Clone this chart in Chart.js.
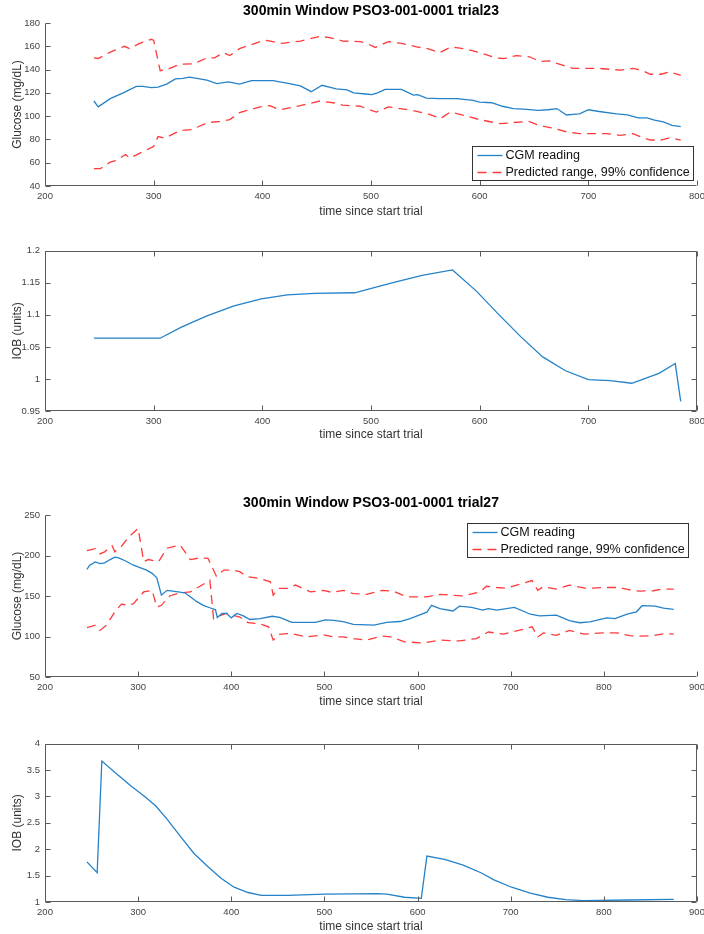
<!DOCTYPE html>
<html>
<head>
<meta charset="utf-8">
<script src="https://cdn.jsdelivr.net/npm/chart.js@4.4.1/dist/chart.umd.min.js"></script>
<style>
  body { margin: 0; background: #fff; width: 704px; height: 934px; position: relative; overflow: hidden; }
  .plot { position: absolute; left: 0; width: 704px; }
</style>
</head>
<body>
<div class="plot" style="top:0;height:222px"><canvas id="glucose23"></canvas></div>
<div class="plot" style="top:240px;height:206px"><canvas id="iob23"></canvas></div>
<div class="plot" style="top:492px;height:221px"><canvas id="glucose27"></canvas></div>
<div class="plot" style="top:733px;height:201px"><canvas id="iob27"></canvas></div>
<script>
// ---- trial 23 data (time since start trial, minutes) ----
const cgmTime23 = [245, 249, 260, 272, 284, 290, 298, 304, 312, 320, 327, 333, 349, 358, 369, 379, 390, 410, 416, 425,
  435, 445, 455, 468, 478, 484, 495, 501, 506, 513, 528, 539, 543, 551, 563, 579, 594, 600, 611, 621,
  631, 640, 654, 663, 671, 680, 686, 692, 700, 710, 726, 736, 746, 754, 761, 769, 777, 785];
const cgm23 = [113, 108, 115, 120, 125.5, 125.5, 124.5, 125, 127.5, 132, 132.5, 133.5, 131, 128, 129.5, 127.5, 130.5, 130.5, 129.5, 128,
  126, 121, 126.5, 123.5, 122.5, 120, 119, 118.5, 120, 123, 123, 118, 118.5, 115.5, 115, 115, 113.5, 112, 111.5, 108.5,
  106.5, 106, 105, 105.5, 106.5, 101, 101.5, 102, 105.5, 104, 102, 101, 98.5, 98.5, 96.5, 95, 92, 91];

const upperTime23 = [245, 249, 260, 273, 278, 287, 298, 300, 306, 312, 324, 337, 349, 356, 364, 370, 379, 398, 404, 418,
  435, 453, 462, 474, 490, 496, 504, 516, 528, 542, 552, 563, 574, 588, 600, 615, 622, 634, 646, 655,
  664, 674, 686, 710, 729, 741, 749, 757, 767, 775, 785];
const upper23 = [150, 149.5, 155, 160, 158, 162.5, 166, 165, 139, 140, 144.5, 145, 150, 150, 154.5, 152, 158, 164, 165, 162.5,
  164.5, 168.5, 167.5, 164.5, 164, 162.5, 159, 164, 162.5, 159.5, 158, 154.5, 159.5, 157.5, 154.5, 150, 149.5, 152, 151, 147,
  147.5, 144.5, 141, 141, 139.5, 141, 139.5, 136, 136, 138, 135];

const lowerTime23 = [245, 251, 260, 266, 274, 278, 287, 300, 304, 310, 324, 335, 350, 361, 370, 379, 398, 407, 416, 435,
  453, 465, 474, 490, 499, 505, 516, 538, 552, 564, 573, 588, 600, 619, 631, 645, 655, 666, 680, 692,
  717, 729, 741, 749, 757, 767, 775, 785];
const lower23 = [55, 55, 60.5, 62, 67, 64, 68, 74, 82.5, 81, 87.5, 88.5, 94.5, 95.5, 97, 103, 108, 109, 105.5, 109,
  113, 111.5, 109.5, 108.5, 105.5, 103.5, 108, 105, 102, 98, 103.5, 100, 97, 93.5, 94.5, 95.5, 92, 90, 86.5, 85,
  85, 83.5, 85, 82, 79.5, 79.5, 81.5, 79.5];

const iobTime23 = [245, 306, 325, 349, 374, 399, 423, 448, 485, 502, 522, 547, 575, 597, 617, 638, 658, 679, 700, 720,
  740, 765, 780, 785];
const iob23 = [1.0635, 1.0635, 1.0805, 1.0985, 1.114, 1.125, 1.131, 1.1333, 1.1344, 1.142, 1.151, 1.1615, 1.17, 1.137, 1.1015, 1.0656, 1.0344, 1.0128, 0.999, 0.9974,
  0.9933, 1.0087, 1.024, 0.965];

// ---- trial 27 data ----
const cgmTime27 = [245, 248, 254, 259, 264, 270, 275, 279, 286, 295, 302, 309, 315, 320, 325, 331, 341, 350, 356, 363,
  370, 377, 383, 385, 390, 395, 400, 406, 413, 420, 431, 444, 452, 465, 490, 501, 510, 520, 531, 553,
  567, 581, 592, 601, 610, 615, 624, 638, 645, 658, 670, 676, 685, 704, 721, 731, 749, 763, 774, 785,
  803, 812, 825, 835, 841, 855, 864, 875];
const cgm27 = [183, 188, 192, 190, 191, 195, 198, 197, 193.5, 188, 185, 182, 178, 172.5, 151, 157, 155.5, 154, 149, 143,
  138.5, 135.5, 133, 123.5, 128.5, 128.5, 123, 128.5, 125.5, 121, 122, 125, 123.5, 117.5, 117.5, 120.5, 120, 118.5, 115, 114,
  117.5, 118.5, 122, 126, 130, 138.5, 134.5, 131.5, 137.5, 136, 132.5, 134.5, 132.5, 136, 127.5, 125.5, 126.5, 119.5, 117, 118,
  123, 122, 127.5, 130.5, 138, 137.5, 135, 133.5];

const upperTime27 = [245, 254, 259, 264, 272, 275, 282, 291, 300, 306, 311, 322, 331, 345, 356, 366, 375, 384, 392, 402,
  409, 417, 431, 442, 445, 451, 460, 469, 485, 499, 508, 520, 531, 545, 562, 574, 588, 610, 624, 649,
  667, 674, 685, 695, 713, 723, 729, 735, 749, 763, 781, 799, 817, 830, 839, 853, 862, 875];
const upper27 = [206, 208.5, 202, 204.5, 212, 204.5, 211.5, 224, 233.5, 192.5, 195, 192.5, 209, 213, 195, 197, 196.5, 174.5, 182, 182,
  180, 174, 171.5, 167.5, 151, 159.5, 159.5, 163.5, 155, 157, 154.5, 157, 153, 152, 157, 156, 149, 149, 152, 150,
  155, 162, 160.5, 159.5, 165.5, 169, 157, 161.5, 158.5, 163.5, 159.5, 160.5, 160.5, 157, 156, 156.5, 158.5, 158.5];

const lowerTime27 = [245, 254, 259, 266, 275, 282, 290, 295, 306, 315, 320, 325, 334, 345, 356, 370, 377, 381, 386, 395,
  409, 418, 429, 440, 445, 451, 460, 467, 481, 499, 510, 520, 531, 545, 562, 571, 586, 606, 624, 645,
  663, 676, 692, 712, 723, 729, 735, 749, 763, 779, 799, 814, 828, 839, 853, 865, 875];
const lower27 = [111, 114, 107.5, 114, 130.5, 140, 138.5, 140.5, 155, 157, 136.5, 138.5, 150, 154, 155, 164.5, 169.5, 122, 125, 128.5,
  124, 117, 116, 112, 95.5, 102.5, 103.5, 103, 99.5, 102, 99.5, 99.5, 97.5, 95.5, 100.5, 99.5, 93.5, 92, 95.5, 94.5,
  97.5, 105.5, 103, 108.5, 112, 99.5, 104.5, 101.5, 107.5, 103, 104.5, 104.5, 101, 100.5, 101, 103.5, 103];

const iobTime27 = [245, 256, 261, 278, 293, 307, 319, 331, 346, 360, 375, 389, 403, 418, 432, 461, 500, 557, 567, 586,
  604, 610, 629, 649, 668, 682, 701, 721, 740, 759, 778, 826, 875];
const iob27 = [1.76, 1.555, 3.67, 3.41, 3.19, 3.0, 2.82, 2.57, 2.23, 1.92, 1.67, 1.45, 1.28, 1.18, 1.125, 1.125, 1.15, 1.16, 1.15, 1.09,
  1.07, 1.87, 1.81, 1.70, 1.555, 1.42, 1.28, 1.17, 1.09, 1.044, 1.025, 1.038, 1.05];

const titles = ['300min Window PSO3-001-0001 trial23', '300min Window PSO3-001-0001 trial27'];
const cgmLabel = 'CGM reading';
const rangeLabel = 'Predicted range, 99% confidence';

// ---- styling ----
const FONT = "'Liberation Sans', Arial, Helvetica, sans-serif";
const BLUE = '#2582c8';
const RED = '#ff3a3a';
const AXIS = '#5a5a5a';

function points(xs, ys) {
  return xs.map((x, i) => ({ x: x, y: ys[i] }));
}

function cgmSet(xs, ys) {
  return { label: cgmLabel, data: points(xs, ys), borderColor: BLUE, borderWidth: 1.3 };
}

function rangeSet(xs, ys, label) {
  return { label: label, data: points(xs, ys), borderColor: RED, borderWidth: 1.3, borderDash: [9, 6] };
}

// MATLAB-like axes: axis lines, optional box, inward ticks
const matlabAxes = {
  id: 'matlabAxes',
  afterDatasetsDraw(chart, args, opts) {
    const { ctx, chartArea: a, scales } = chart;
    const len = 5;
    const L = Math.round(a.left) + 0.5, R = Math.round(a.right) - 0.5;
    const T = Math.round(a.top) + 0.5, B = Math.round(a.bottom) - 0.5;
    ctx.save();
    ctx.strokeStyle = AXIS;
    ctx.lineWidth = 1;
    ctx.beginPath();
    ctx.moveTo(L, T); ctx.lineTo(L, B); ctx.lineTo(R, B);
    if (opts.box) { ctx.lineTo(R, T); ctx.lineTo(L, T); }
    scales.x.ticks.forEach((t, i) => {
      const px = Math.round(scales.x.getPixelForTick(i)) + 0.5;
      ctx.moveTo(px, B); ctx.lineTo(px, B - len);
      if (opts.box) { ctx.moveTo(px, T); ctx.lineTo(px, T + len); }
    });
    scales.y.ticks.forEach((t, i) => {
      const py = Math.round(scales.y.getPixelForTick(i)) + 0.5;
      ctx.moveTo(L, py); ctx.lineTo(L + len, py);
      if (opts.box) { ctx.moveTo(R, py); ctx.lineTo(R - len, py); }
    });
    ctx.stroke();
    ctx.restore();
  }
};

// legend box drawn inside the axes, one entry per distinct label
const boxLegend = {
  id: 'boxLegend',
  afterDraw(chart, args, opts) {
    if (!opts.show) return;
    const { ctx, chartArea: a } = chart;
    const seen = new Set();
    const sets = chart.data.datasets.filter(d => {
      if (seen.has(d.label)) return false;
      seen.add(d.label);
      return true;
    });
    ctx.save();
    ctx.font = '12.5px ' + FONT;
    const tw = Math.max(...sets.map(d => ctx.measureText(d.label).width));
    const w = Math.round(tw + 37), h = 34;
    const left = Math.round(a.right - opts.right - w) + 0.5;
    const top = Math.round(opts.top != null ? a.top + opts.top : a.bottom - opts.bottom - h) + 0.5;
    ctx.fillStyle = '#fff';
    ctx.fillRect(left, top, w, h);
    ctx.strokeStyle = '#333';
    ctx.lineWidth = 1;
    ctx.strokeRect(left, top, w, h);
    sets.forEach((d, i) => {
      const cy = top + 9 + i * 17;
      ctx.strokeStyle = d.borderColor;
      ctx.lineWidth = d.borderWidth;
      ctx.setLineDash(d.borderDash || []);
      ctx.beginPath();
      ctx.moveTo(left + 5, cy);
      ctx.lineTo(left + 30, cy);
      ctx.stroke();
      ctx.setLineDash([]);
      ctx.fillStyle = '#111';
      ctx.textBaseline = 'middle';
      ctx.fillText(d.label, left + 33, cy);
    });
    ctx.restore();
  }
};

function tickText(v) {
  return String(Math.round(v * 100) / 100);
}

// build one subplot
function makePlot(id, sets, o) {
  const ctx = document.getElementById(id).getContext('2d');
  return new Chart(ctx, {
    type: 'line',
    data: { datasets: sets },
    plugins: [matlabAxes, boxLegend],
    options: {
      responsive: true,
      maintainAspectRatio: false,
      animation: false,
      events: [],
      layout: { padding: { left: 0, right: 0, top: o.title ? 0 : 9, bottom: 0 } },
      elements: { point: { radius: 0 }, line: { tension: 0 } },
      plugins: {
        legend: { display: false },
        tooltip: { enabled: false },
        title: {
          display: !!o.title,
          text: o.title,
          fullSize: false,
          color: '#000',
          font: { family: FONT, size: 14, weight: 'bold' },
          padding: { top: 3, bottom: 3.2 }
        },
        matlabAxes: { box: o.box },
        boxLegend: o.legend || { show: false }
      },
      scales: {
        x: {
          type: 'linear',
          min: o.xMin, max: o.xMax,
          grid: { display: false, drawTicks: false },
          border: { display: false },
          ticks: { stepSize: 100, padding: 5, color: '#444', font: { family: FONT, size: 9.5 }, maxRotation: 0 },
          title: { display: true, text: 'time since start trial', color: '#333', font: { family: FONT, size: 12 },
                   padding: { top: 0, bottom: o.xTitlePad } },
          afterFit: s => {
            s.height = o.xHeight;
            s.paddingLeft = 0;
            s.paddingRight = 7;
          }
        },
        y: {
          min: o.yMin, max: o.yMax,
          grid: { display: false, drawTicks: false },
          border: { display: false },
          ticks: { stepSize: o.yStep, padding: 5, color: '#444', font: { family: FONT, size: 9.5 }, callback: tickText },
          title: { display: true, text: o.yTitle, color: '#333', font: { family: FONT, size: 12 },
                   padding: { top: 10, bottom: 0 } },
          afterFit: s => { s.width = 45; }
        }
      }
    }
  });
}

// Chart setup
makePlot('glucose23', [
  cgmSet(cgmTime23, cgm23),
  rangeSet(upperTime23, upper23, rangeLabel),
  rangeSet(lowerTime23, lower23, rangeLabel)
], { title: titles[0], box: false, xMin: 200, xMax: 800, yMin: 40, yMax: 180, yStep: 20,
     yTitle: 'Glucose (mg/dL)', xHeight: 36, xTitlePad: 3,
     legend: { show: true, right: 4, bottom: 6 } });

makePlot('iob23', [
  { label: 'IOB', data: points(iobTime23, iob23), borderColor: BLUE, borderWidth: 1.3 }
], { box: true, xMin: 200, xMax: 800, yMin: 0.95, yMax: 1.2, yStep: 0.05,
     yTitle: 'IOB (units)', xHeight: 35, xTitlePad: 4 });

makePlot('glucose27', [
  cgmSet(cgmTime27, cgm27),
  rangeSet(upperTime27, upper27, rangeLabel),
  rangeSet(lowerTime27, lower27, rangeLabel)
], { title: titles[1], box: false, xMin: 200, xMax: 900, yMin: 50, yMax: 250, yStep: 50,
     yTitle: 'Glucose (mg/dL)', xHeight: 36, xTitlePad: 4,
     legend: { show: true, right: 9, top: 8 } });

makePlot('iob27', [
  { label: 'IOB', data: points(iobTime27, iob27), borderColor: BLUE, borderWidth: 1.3 }
], { box: true, xMin: 200, xMax: 900, yMin: 1, yMax: 4, yStep: 0.5,
     yTitle: 'IOB (units)', xHeight: 32, xTitlePad: 0 });
</script>
</body>
</html>
